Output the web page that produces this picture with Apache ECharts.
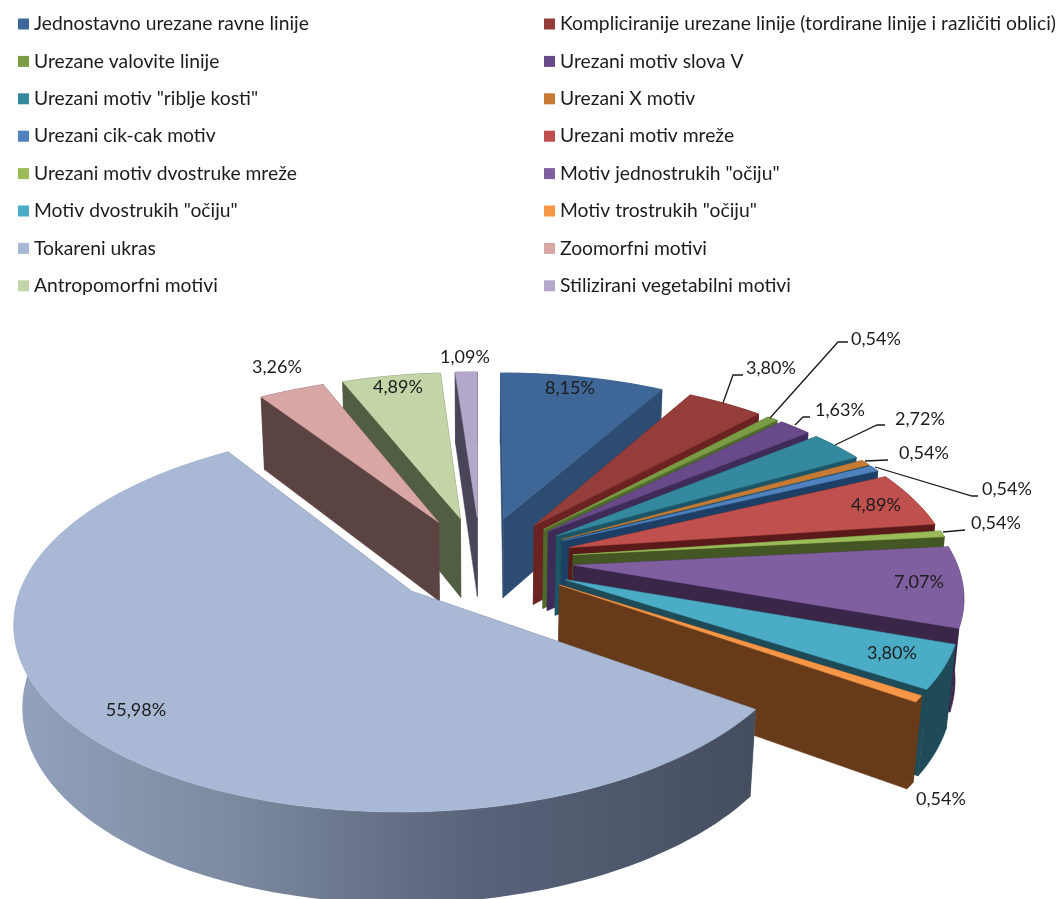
<!DOCTYPE html>
<html><head><meta charset="utf-8">
<style>html,body{margin:0;padding:0;background:#fff}#c{width:1064px;height:899px}</style>
<script src="https://cdn.jsdelivr.net/npm/echarts@6/dist/echarts.min.js"></script>
</head><body><div id="c"></div>
<script>
const categories = ['Jednostavno urezane ravne linije','Kompliciranije urezane linije (tordirane linije i različiti oblici)','Urezane valovite linije','Urezani motiv slova V','Urezani motiv "riblje kosti"','Urezani X motiv','Urezani cik-cak motiv','Urezani motiv mreže','Urezani motiv dvostruke mreže','Motiv jednostrukih "očiju"','Motiv dvostrukih "očiju"','Motiv trostrukih "očiju"','Tokareni ukras','Zoomorfni motivi','Antropomorfni motivi','Stilizirani vegetabilni motivi'];
const values = [8.15,3.80,0.54,1.63,2.72,0.54,0.54,4.89,0.54,7.07,3.80,0.54,55.98,3.26,4.89,1.09];

const topColors = ['#3e6797','#953d3b','#7b9b45','#684a8a','#34899f','#c77a33','#4f81bd','#c0504d','#9bbb59','#7f5fa0','#4bacc6','#f79646','#a9b9d5','#d9a6a6','#c3d5a6','#b3a8c9'];
const wallColors = ['#2d4c72','#6b2322','#4f6a2a','#3f2b58','#1c5565','#1c4a5c','#1d3f66','#5a1a1a','#435623','#3a2649','#1f4a58','#673b1a','#5a6478','#5a4340','#525e42','#4a4458'];
const paintOrder = [15,14,13,0,1,2,3,4,5,6,7,8,9,10,11,12];
// label centres and optional leader-line elbows, in page pixels
const labelLayout = [
  {x:570,y:388},
  {x:771,y:368,line:[[723,403],[733,375],[743,375]]},
  {x:876,y:339,line:[[770,418],[838,342],[848,342]]},
  {x:840,y:410,line:[[795,425],[803,417],[810,417]]},
  {x:920,y:419,line:[[835,445],[877,425],[885,425]]},
  {x:924,y:453,line:[[865,461],[888,460]]},
  {x:1007,y:489,line:[[875,467],[972,496],[978,496]]},
  {x:876,y:505},
  {x:996,y:523,line:[[943,532],[965,530]]},
  {x:919,y:582},
  {x:892,y:653},
  {x:941,y:799},
  {x:136,y:710},
  {x:277,y:367},
  {x:398,y:387},
  {x:465,y:357}
];

// projection of the tilted disc
const cx=480.5, cy=560, Rx=382, Sy=178.5, persp=0.146, Depth=82, shrink=0.018, explode=0.245;
function project(u,v,z){
  const w = 1 - persp*v + shrink*z;
  return [cx + Rx*u/w, cy + (Sy*v + Depth*z)/w];
}
const total = 100;
function sliceAngles(i){
  let s=0; for(let k=0;k<i;k++) s+=values[k];
  return [s/total*2*Math.PI,(s+values[i])/total*2*Math.PI];
}
function makeRender(i){
  return function(params,api){
    const [a0,a1]=sliceAngles(i);
    const mid=(a0+a1)/2;
    const ox=Math.sin(mid)*explode, oy=-Math.cos(mid)*explode;
    const steps=Math.max(3,Math.ceil((a1-a0)/0.03));
    const rim=[];
    for(let k=0;k<=steps;k++){const a=a0+(a1-a0)*k/steps;rim.push([ox+Math.sin(a),oy-Math.cos(a)]);}
    const P=(p,z)=>project(p[0],p[1],z);
    const apex=[ox,oy];
    const poly=(pts,fill)=>({type:'polygon',shape:{points:pts},style:{fill:fill,stroke:typeof fill==='string'?fill:null,lineWidth:typeof fill==='string'?0.5:0}});
    const wallFill = i===12 ? {type:'linear',x:0,y:0,x2:1,y2:0,colorStops:[{offset:0,color:'#93a2bd'},{offset:0.3,color:'#7c899f'},{offset:0.62,color:'#59637a'},{offset:1,color:'#454e5f'}]} : wallColors[i];
    const outerPts=rim.map(p=>P(p,0)).concat(rim.slice().reverse().map(p=>P(p,1)));
    const startWall=[P(apex,0),P(rim[0],0),P(rim[0],1),P(apex,1)];
    const endWall=[P(apex,0),P(rim[steps],0),P(rim[steps],1),P(apex,1)];
    const walls=[
      {f:-Math.cos(a0-Math.PI/2),el:poly(startWall,wallColors[i])},
      {f:-Math.cos(a1+Math.PI/2),el:poly(endWall,wallColors[i])},
      {f:-Math.cos(mid),el:poly(outerPts,wallFill)}
    ];
    if(i===12) walls[2].f=1;
    walls.sort((a,b)=>a.f-b.f);
    const children=walls.map(w=>w.el);
    children.push(poly([P(apex,0)].concat(rim.map(p=>P(p,0))),topColors[i]));
    return {type:'group',children:children};
  };
}
function renderLabel(params,api){
  const i=params.dataIndex, L=labelLayout[i];
  const kids=[];
  if(L.line) kids.push({type:'polyline',shape:{points:L.line},style:{stroke:'#1a1a1a',lineWidth:1.3,fill:null}});
  kids.push({type:'text',style:{text:values[i].toFixed(2).replace('.',',')+'%',x:L.x,y:L.y,align:'center',verticalAlign:'middle',font:'18px Lato',fill:'#1c1c1c'}});
  return {type:'group',children:kids};
}
const seriesList=categories.map((name,i)=>({
  type:'custom',name:name,coordinateSystem:'none',silent:true,animation:false,
  z:2+paintOrder.indexOf(i),
  itemStyle:{color:topColors[i]},
  data:[values[i]],
  renderItem:makeRender(i)
}));
seriesList.push({type:'custom',name:'labels',coordinateSystem:'none',silent:true,animation:false,z:50,data:values,renderItem:renderLabel});
const legendBase={orient:'vertical',icon:'rect',itemWidth:11,itemHeight:11,itemGap:17.4,selectedMode:false,padding:0,top:14,
  textStyle:{fontFamily:'Lato',fontSize:19.3,color:'#1c1c1c',height:20,lineHeight:20,padding:[0,0,0,0]}};
const option={
  animation:false,backgroundColor:'#fff',
  legend:[
    Object.assign({},legendBase,{left:18,data:categories.filter((c,i)=>i%2===0)}),
    Object.assign({},legendBase,{left:544,data:categories.filter((c,i)=>i%2===1)})
  ],
  series:seriesList
};
echarts.init(document.getElementById('c'),null,{renderer:'canvas'}).setOption(option);
</script></body></html>
